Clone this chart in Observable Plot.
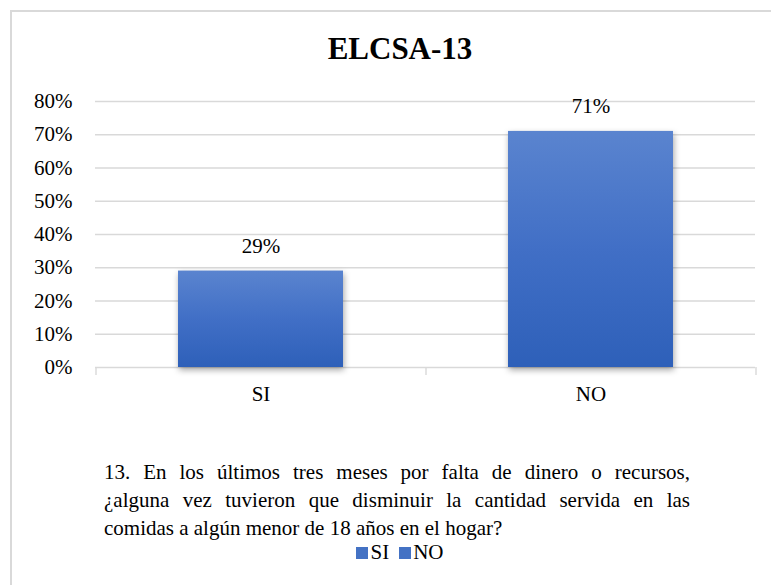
<!DOCTYPE html>
<html>
<head>
<meta charset="utf-8">
<script src="https://cdn.jsdelivr.net/npm/d3@7"></script>
<script src="https://cdn.jsdelivr.net/npm/@observablehq/plot@0.6"></script>
<style>
  html, body { margin: 0; padding: 0; background: #fff; }
  body { font-family: 'Liberation Serif', serif; }
  .frame { position: absolute; left: 10px; top: 10px; width: 800px; height: 620px; border-left: 2px solid #d9d9d9; border-top: 2px solid #d9d9d9; box-sizing: border-box; }
  .ttl { position: absolute; left: 0; width: 800px; top: 31px; text-align: center; font-weight: bold; font-size: 31px; line-height: 36px; }
  .chart { position: absolute; left: 0; top: 0; }
  .cap { position: absolute; left: 104px; top: 458px; width: 586px; font-size: 21px; line-height: 28px; }
  .cap div { text-align: justify; text-align-last: justify; white-space: nowrap; }
  .cap div.last { text-align-last: left; }
  .leg { position: absolute; left: 0; width: 800px; top: 538px; text-align: center; font-size: 21px; line-height: 28px; }
  .leg span.sw { display: inline-block; width: 12px; height: 12px; background: #4472c4; margin-right: 2px; }
  .leg span.item { margin: 0 5px; }
</style>
</head>
<body>
<div class="frame"></div>
<div class="chart" id="chart"></div>
<div class="ttl" id="title"></div>
<div class="cap" id="caption"></div>
<div class="leg" id="legend"></div>
<script>
const categories = ["SI", "NO"];
const values = [0.29, 0.71];
const yTicks = [0, 0.1, 0.2, 0.3, 0.4, 0.5, 0.6, 0.7, 0.8];
const titleText = "ELCSA-13";
const captionLines = [
  "13. En los últimos tres meses por falta de dinero o recursos,",
  "¿alguna vez tuvieron que disminuir la cantidad servida en las",
  "comidas a algún menor de 18 años en el hogar?"
];
const legendLabels = ["SI", "NO"];

const FONT = "'Liberation Serif', Tinos, serif";
const data = categories.map((c, i) => ({category: c, value: values[i]}));
const pct = d => Math.round(d * 100) + "%";

const plot = Plot.plot({
  width: 771,
  height: 420,
  marginTop: 101,
  marginBottom: 53,
  marginLeft: 95,
  marginRight: 16,
  style: {fontSize: "21px", color: "#000", background: "transparent", overflow: "visible"},
  x: {domain: categories, paddingInner: 0.5, paddingOuter: 0.25, label: null},
  y: {domain: [0, 0.8], label: null},
  marks: [
    Plot.ruleY(yTicks, {stroke: "#d9d9d9", strokeWidth: 1.4}),
    Plot.ruleX(categories, {x: d => d, dx: -165, y1: 0, y2: -0.024, stroke: "#d9d9d9", strokeWidth: 1.4}),
    Plot.ruleX(categories.slice(-1), {x: d => d, dx: 165, y1: 0, y2: -0.024, stroke: "#d9d9d9", strokeWidth: 1.4}),
    Plot.barY(data, {x: "category", y: "value", fill: "url(#barGrad)"}),
    Plot.text(data, {x: "category", y: "value", text: d => pct(d.value), dy: -25, fill: "#000", fontSize: 21}),
    Plot.axisX({tickSize: 0, tickPadding: 19, fontSize: 21}),
    Plot.axisY({ticks: yTicks, tickSize: 0, tickPadding: 23, tickFormat: pct, fontSize: 21})
  ]
});

const svg = d3.select(plot);
const defs = svg.insert("defs", ":first-child");
const grad = defs.append("linearGradient").attr("id", "barGrad").attr("x1", 0).attr("y1", 0).attr("x2", 0).attr("y2", 1);
grad.append("stop").attr("offset", "0%").attr("stop-color", "#5a84cf");
grad.append("stop").attr("offset", "50%").attr("stop-color", "#416fc6");
grad.append("stop").attr("offset", "100%").attr("stop-color", "#2e60b9");
svg.selectAll("g[aria-label='bar'] rect").style("filter", "drop-shadow(1px 3px 3px rgba(0,0,0,0.35))");
document.getElementById("chart").appendChild(plot);

document.getElementById("title").textContent = titleText;
const cap = document.getElementById("caption");
captionLines.forEach((t, i) => {
  const d = document.createElement("div");
  d.textContent = t;
  if (i === captionLines.length - 1) d.className = "last";
  cap.appendChild(d);
});
const leg = document.getElementById("legend");
legendLabels.forEach(l => {
  const it = document.createElement("span");
  it.className = "item";
  const sw = document.createElement("span");
  sw.className = "sw";
  it.appendChild(sw);
  it.appendChild(document.createTextNode(l));
  leg.appendChild(it);
});
// apply font with highest priority to every element
document.querySelectorAll("body, body *").forEach(el => {
  el.style.setProperty("font-family", FONT, "important");
});
</script>
</body>
</html>
